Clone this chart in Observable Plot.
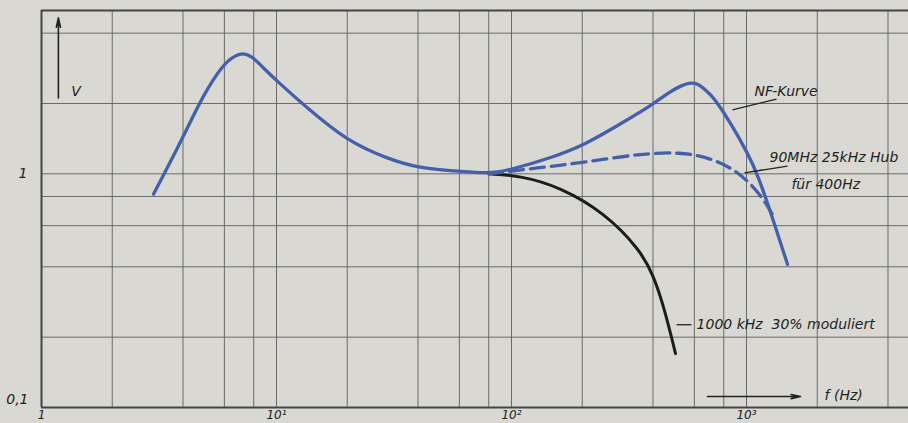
<!DOCTYPE html>
<html>
<head>
<meta charset="utf-8">
<script src="https://cdn.jsdelivr.net/npm/d3@7"></script>
<script src="https://cdn.jsdelivr.net/npm/@observablehq/plot@0.6"></script>
<style>
  html, body { margin: 0; padding: 0; background: #d9d8d2; }
  #chart svg { display: block; background: #d9d8d2; }
</style>
</head>
<body>
<div id="chart"></div>
<script>
// ---- Data ----
// NF-Kurve (solid blue)
const nfFreq = [3, 4, 4.9, 5.95, 6.6, 7.2, 7.9, 8.55, 10.1, 13.6, 20, 29.7, 40, 56.7, 80, 99, 147, 205, 295, 402, 475, 530, 578, 620, 656, 703, 753, 855, 1010, 1113, 1303, 1494];
const nfV    = [0.82, 1.43, 2.2, 2.95, 3.19, 3.3, 3.17, 2.92, 2.48, 1.9, 1.38, 1.16, 1.06, 1.03, 1.0, 1.04, 1.17, 1.33, 1.65, 1.99, 2.26, 2.39, 2.46, 2.43, 2.33, 2.18, 2.01, 1.65, 1.23, 1.0, 0.63, 0.41];
// 90 MHz, 25 kHz Hub, für 400 Hz (dashed blue)
const fmFreq = [80, 129, 205, 354, 524, 703, 916, 1147, 1300];
const fmV    = [1.0, 1.06, 1.12, 1.22, 1.24, 1.17, 1.03, 0.82, 0.66];
// 1000 kHz 30% moduliert (black)
const amFreq = [80, 110, 160, 250, 354, 400, 443, 499];
const amV    = [1.0, 0.98, 0.88, 0.68, 0.47, 0.37, 0.275, 0.17];

// Grid of the log-log paper
const xGrid = [1, 2, 4, 6, 8, 10, 20, 40, 60, 80, 100, 200, 400, 600, 800, 1000, 2000, 4000];
const yGrid = [0.1, 0.2, 0.4, 0.6, 0.8, 1, 2, 4, 5];

// Tick labels
const xTickValues = [1, 10, 100, 1000];
const xTickLabels = ["1", "10\u00B9", "10\u00B2", "10\u00B3"];
const yTickValues = [0.1, 1];
const yTickLabels = ["0,1", "1"];

// Annotations (anchored in data space)
const notes = [
  {text: "NF-Kurve", f: 1082, v: 2.24},
  {text: "90MHz 25kHz Hub", f: 1253, v: 1.17},
  {text: "für 400Hz", f: 1553, v: 0.897},
  {text: "1000 kHz  30% moduliert", f: 613, v: 0.226},
  {text: "f (Hz)", f: 2148, v: 0.112},
  {text: "V", f: 1.34, v: 2.26}
];
const leaders = [
  {f1: 871, v1: 1.88, f2: 1342, v2: 2.09},
  {f1: 980, v1: 1.01, f2: 1494, v2: 1.08},
  {f1: 504, v1: 0.226, f2: 583, v2: 0.226}
];
const arrows = [
  {f1: 1.18, v1: 2.11, f2: 1.18, v2: 4.65},
  {f1: 682, v1: 0.1114, f2: 1698, v2: 0.1114}
];

// ---- Build tables ----
const nf = nfFreq.map((f, i) => ({f, v: nfV[i]}));
const fm = fmFreq.map((f, i) => ({f, v: fmV[i]}));
const am = amFreq.map((f, i) => ({f, v: amV[i]}));
const xLab = new Map(xTickValues.map((d, i) => [d, xTickLabels[i]]));
const yLab = new Map(yTickValues.map((d, i) => [d, yTickLabels[i]]));

const font = "'DejaVu Sans', 'Liberation Sans', sans-serif";
const blue = "#4560aa";
const gridColor = "#6a6a6a";
const frameColor = "#454545";

const chart = Plot.plot({
  width: 908,
  height: 423,
  marginLeft: 41,
  marginRight: 0,
  marginTop: 10,
  marginBottom: 16,
  style: {background: "#d9d8d2", fontFamily: font, fontStyle: "italic", fontSize: "14px", color: "#222"},
  x: {type: "log", domain: [1, 4890], axis: null},
  y: {type: "log", domain: [0.1, 5], axis: null},
  marks: [
    // grid
    Plot.ruleX(xGrid, {stroke: gridColor, strokeWidth: 1}),
    Plot.ruleY(yGrid, {stroke: gridColor, strokeWidth: 1}),
    // frame (left, top, bottom)
    Plot.ruleX([1], {stroke: frameColor, strokeWidth: 2}),
    Plot.ruleY([0.1, 5], {stroke: frameColor, strokeWidth: 2}),
    // tick labels
    Plot.axisX({ticks: xTickValues, tickFormat: d => xLab.get(d), tickSize: 0, tickPadding: 3,
      fontSize: 12, fontStyle: "italic", fill: "#222", anchor: "bottom"}),
    Plot.text(yTickValues.filter(d => d === 1), {x: 1, y: d => d, text: d => yLab.get(d),
      dx: -14, textAnchor: "end", fontSize: 14, fill: "#222"}),
    Plot.text(yTickValues.filter(d => d === 0.1), {x: 1, y: d => d, text: d => yLab.get(d),
      dx: -13, dy: -8, textAnchor: "end", fontSize: 14, fill: "#222"}),
    // curves
    Plot.line(am, {x: "f", y: "v", stroke: "#1c1c1c", strokeWidth: 3, curve: "basis"}),
    Plot.line(nf, {x: "f", y: "v", stroke: blue, strokeWidth: 3.3, curve: "basis"}),
    Plot.line(fm, {x: "f", y: "v", stroke: blue, strokeWidth: 3.3, strokeDasharray: "14,7", curve: "basis"}),
    // leader lines
    Plot.link(leaders, {x1: "f1", y1: "v1", x2: "f2", y2: "v2", stroke: "#222", strokeWidth: 1.3}),
    // arrows
    Plot.arrow(arrows, {x1: "f1", y1: "v1", x2: "f2", y2: "v2", stroke: "#222", strokeWidth: 1.6,
      headLength: 9, headAngle: 25}),
    // annotation texts
    Plot.text(notes, {x: "f", y: "v", text: "text", textAnchor: "start", fontSize: 14, fill: "#222"})
  ]
});
document.getElementById("chart").appendChild(chart);
</script>
</body>
</html>
